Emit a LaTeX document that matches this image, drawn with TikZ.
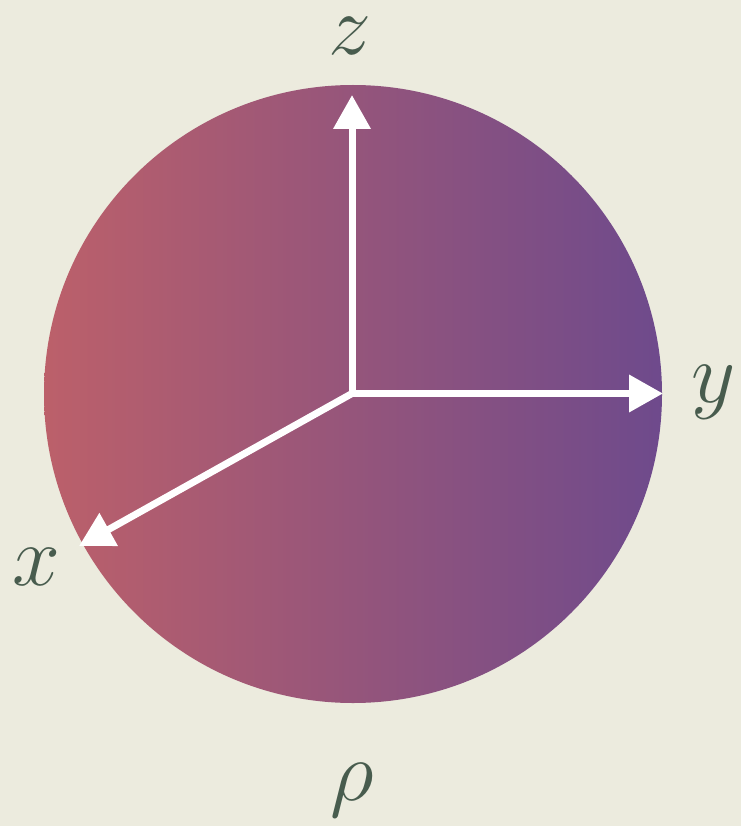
\RequirePackage{fix-cm}
\documentclass[tikz,border=0pt]{standalone}
\usetikzlibrary{arrows.meta}
\definecolor{paper}{RGB}{236,235,222}
\definecolor{leftc}{RGB}{188,96,106}
\definecolor{rightc}{RGB}{110,74,140}
\definecolor{labc}{RGB}{72,92,78}
\tikzset{
  axis/.style={white,line width=7pt,-{Triangle[length=34pt,width=36pt]}},
  lab/.style={text=labc,font=\fontsize{86}{86}\selectfont,inner sep=0pt}
}
\begin{document}
\begin{tikzpicture}[x=1pt,y=-1pt]
\fill[paper] (0,0) rectangle (741,826);
\useasboundingbox (0,0) rectangle (741,826);
\shade[left color=leftc,right color=rightc] (353,394) circle (309);
\coordinate (o) at (352,393.5);
\coordinate (zt) at (352,95);
\coordinate (yt) at (663,393.5);
\coordinate (xt) at (79,546);
\draw[axis] (o) -- (zt);
\draw[axis] (o) -- (yt);
\draw[axis] (o) -- (xt);
\node[lab] (zl) at (350,36) {$z$};
\node[lab] (yl) at (714,392) {$y$};
\node[lab] (xl) at (36,567) {$x$};
\node[lab] (rl) at (352,790) {$\rho$};
\end{tikzpicture}
\end{document}
